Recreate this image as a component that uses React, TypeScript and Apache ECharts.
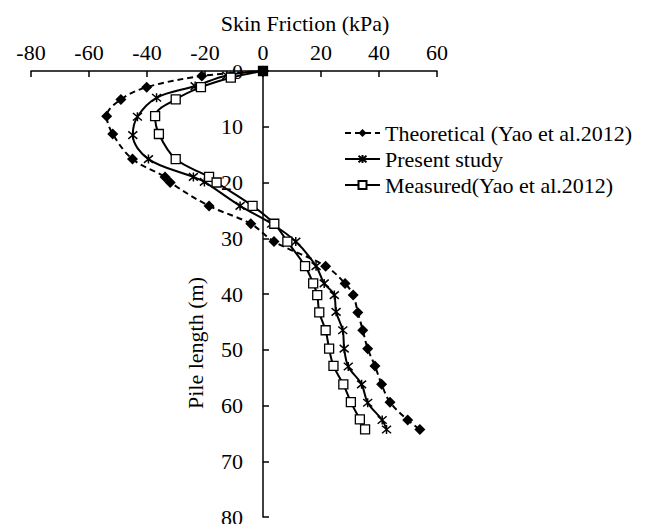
import React, { useEffect, useRef } from "react";
import * as echarts from "echarts";

// Depth along the pile (m) and skin friction (kPa) for each series
const depthTheo = [0, 0.9, 2.9, 5.1, 8.1, 11.3, 15.8, 19.0, 20.0, 24.2, 27.4, 30.6, 35.0, 38.1, 40.2, 43.3, 46.5, 49.8, 52.9, 56.2, 59.4, 62.6, 64.3];
const frictionTheo = [0, -21.1, -40.1, -49.0, -53.9, -51.8, -45.0, -33.8, -32.0, -18.6, -4.2, 3.8, 21.6, 28.3, 31.1, 32.7, 34.4, 36.1, 38.6, 40.9, 43.8, 49.9, 54.1];

const depthPresent = [0, 0.8, 2.7, 4.8, 8.2, 11.5, 15.8, 19.0, 19.9, 24.2, 27.4, 30.6, 35.0, 38.1, 40.2, 43.2, 46.5, 49.8, 53.0, 56.2, 59.5, 62.6, 64.3];
const frictionPresent = [0, -12.5, -23.4, -36.7, -43.3, -44.9, -39.5, -24.0, -20.2, -7.9, 3.0, 11.3, 18.3, 21.1, 24.6, 25.2, 27.5, 28.0, 29.4, 34.0, 36.1, 41.1, 42.6];

const depthMeasured = [0, 1.2, 2.9, 5.1, 8.1, 11.3, 15.8, 19.0, 20.0, 24.2, 27.4, 30.6, 35.0, 38.1, 40.2, 43.3, 46.5, 49.8, 52.9, 56.2, 59.4, 62.5, 64.3];
const frictionMeasured = [0, -11.1, -21.4, -30.1, -37.2, -35.9, -30.1, -18.6, -16.0, -3.6, 3.9, 8.4, 14.5, 17.3, 18.7, 19.4, 21.6, 22.8, 24.3, 27.7, 30.3, 33.4, 35.2];

const seriesNames = ["Theoretical (Yao et al.2012)", "Present study", "Measured(Yao et al.2012)"];
const xTitle = "Skin Friction (kPa)";
const yTitle = "Pile length (m)";

const FONT = "Liberation Serif";
const STAR = "path://M0,0L10,10M10,0L0,10M5,-1L5,11";

function pairs(xs: number[], ys: number[]) {
  return xs.map((x, i) => [x, ys[i]]);
}

export default function App() {
  const ref = useRef<HTMLDivElement>(null);
  useEffect(() => {
    if (!ref.current) return;
    const chart = echarts.init(ref.current, null, { renderer: "svg" });
    const measuredData: any[] = pairs(frictionMeasured, depthMeasured).map((p, i) =>
      i === 0 ? { value: p, itemStyle: { color: "#000" } } : p
    );
    const labelStyle = { fontFamily: FONT, fontSize: 22, color: "#000", lineHeight: 24 };
    chart.setOption({
      animation: false,
      backgroundColor: "#fff",
      textStyle: { fontFamily: FONT, color: "#000" },
      grid: { left: 31, right: 211, top: 71, bottom: 7, containLabel: false, outerBoundsMode: "none" },
      xAxis: {
        type: "value",
        position: "top",
        min: -80,
        max: 60,
        interval: 20,
        axisLine: { onZero: false, lineStyle: { color: "#000", width: 1.5 } },
        axisTick: { inside: true, length: 6, lineStyle: { color: "#000", width: 1.5 } },
        axisLabel: { ...labelStyle, margin: 7 },
        splitLine: { show: false },
      },
      yAxis: {
        type: "value",
        inverse: true,
        min: 0,
        max: 80,
        interval: 10,
        position: "left",
        offset: -232,
        axisLine: { onZero: false, lineStyle: { color: "#000", width: 1.5 } },
        axisTick: { inside: true, length: 6, lineStyle: { color: "#000", width: 1.5 } },
        axisLabel: { ...labelStyle, margin: 20 },
        splitLine: { show: false },
      },
      legend: {
        orient: "vertical",
        left: 339,
        top: 115,
        itemWidth: 35,
        itemHeight: 10,
        itemGap: 0,
        textStyle: { fontFamily: FONT, fontSize: 22, color: "#000", lineHeight: 26 },
        data: seriesNames,
      },
      graphic: [
        {
          type: "text",
          x: 305,
          y: 23,
          style: { text: xTitle, fontFamily: FONT, fontSize: 22, lineHeight: 24, fill: "#000", align: "center", verticalAlign: "middle" },
        },
        {
          type: "text",
          x: 195,
          y: 343,
          rotation: Math.PI / 2,
          style: { text: yTitle, fontFamily: FONT, fontSize: 22, lineHeight: 24, fill: "#000", align: "center", verticalAlign: "middle" },
        },
      ],
      series: [
        {
          name: seriesNames[0],
          type: "line",
          smooth: 0.35,
          data: pairs(frictionTheo, depthTheo),
          symbol: "diamond",
          symbolSize: 11,
          itemStyle: { color: "#000" },
          lineStyle: { color: "#000", width: 2, type: [6, 4] },
        },
        {
          name: seriesNames[1],
          type: "line",
          smooth: 0.35,
          data: pairs(frictionPresent, depthPresent),
          symbol: STAR,
          symbolSize: 9,
          itemStyle: { color: "transparent", borderColor: "#000", borderWidth: 1.5 },
          lineStyle: { color: "#000", width: 2 },
        },
        {
          name: seriesNames[2],
          type: "line",
          smooth: 0.35,
          data: measuredData,
          symbol: "rect",
          symbolSize: 9,
          itemStyle: { color: "#fff", borderColor: "#000", borderWidth: 1.3 },
          lineStyle: { color: "#000", width: 2 },
        },
      ],
    });
    return () => chart.dispose();
  }, []);
  return (
    <div
      ref={ref}
      style={{ position: "fixed", left: 0, top: 0, width: 648, height: 524, background: "#fff" }}
    />
  );
}
